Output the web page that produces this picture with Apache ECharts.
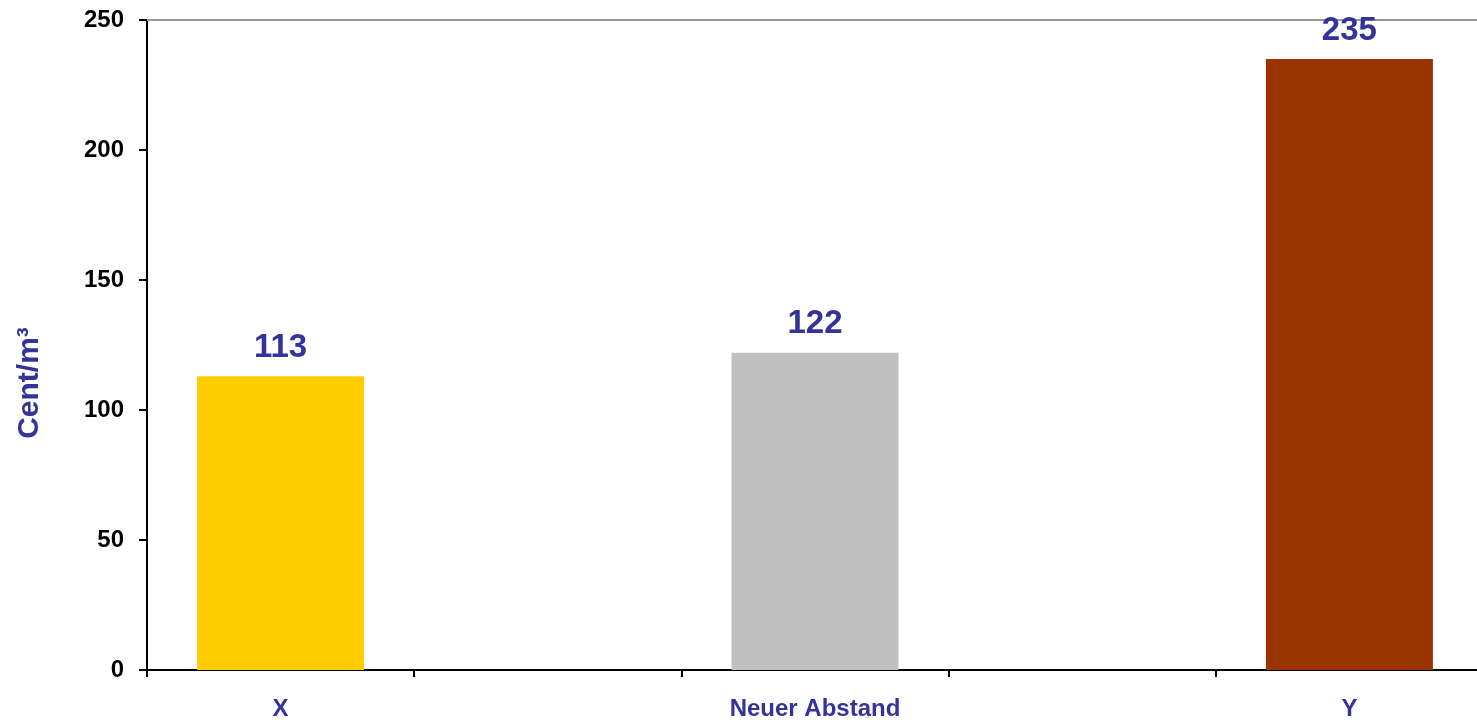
<!DOCTYPE html>
<html>
<head>
<meta charset="utf-8">
<script src="https://cdn.jsdelivr.net/npm/echarts@6/dist/echarts.min.js"></script>
<style>
  html, body { margin: 0; padding: 0; background: #fff; overflow: hidden; }
  #chart { width: 1477px; height: 720px; }
</style>
</head>
<body>
<div id="chart"></div>
<script>
// categories with empty slots between them, like in the original sheet
var categories = ['X', '', 'Neuer Abstand', '', 'Y'];
var values = [113, '-', 122, '-', 235];
var barColors = ['#FFCC00', '#FFFFFF', '#C0C0C0', '#FFFFFF', '#993300'];
var yTicks = { min: 0, max: 250, interval: 50 };

var myChart = echarts.init(document.getElementById('chart'));
var blue = '#333399';
var font = 'Liberation Sans, Arial, sans-serif';

var option = {
  animation: false,
  grid: { left: 147, top: 20, bottom: 50, width: 1336, outerBoundsMode: 'none' },
  xAxis: [
    {
      type: 'category',
      data: categories,
      axisLine: { lineStyle: { color: '#000', width: 2 } },
      axisTick: { show: true, length: 7, lineStyle: { color: '#000', width: 2 } },
      axisLabel: {
        interval: 0,
        margin: 27,
        color: blue,
        fontSize: 24,
        fontWeight: 'bold',
        fontFamily: font
      }
    },
    {
      type: 'category',
      position: 'top',
      data: categories,
      axisLine: { show: true, lineStyle: { color: '#999', width: 2 } },
      axisTick: { show: false },
      axisLabel: { show: false }
    }
  ],
  yAxis: {
    type: 'value',
    min: yTicks.min,
    max: yTicks.max,
    interval: yTicks.interval,
    axisLine: { show: true, lineStyle: { color: '#000', width: 2 } },
    axisTick: { show: true, inside: false, length: 8, lineStyle: { color: '#000', width: 2 } },
    splitLine: { show: false },
    axisLabel: {
      margin: 23,
      color: '#000',
      fontSize: 24,
      fontWeight: 'bold',
      fontFamily: font
    }
  },
  graphic: [{
    type: 'text',
    x: 30,
    y: 383,
    rotation: Math.PI / 2,
    style: {
      text: 'Cent/m³',
      align: 'center',
      verticalAlign: 'middle',
      fill: blue,
      fontSize: 30,
      fontWeight: 'bold',
      fontFamily: font
    }
  }],
  series: [{
    type: 'bar',
    data: values.map(function (v, i) {
      return { value: v, itemStyle: { color: barColors[i] } };
    }),
    barWidth: '62.5%',
    label: {
      show: true,
      position: 'top',
      distance: 12,
      color: blue,
      fontSize: 33,
      fontWeight: 'bold',
      fontFamily: font
    }
  }]
};

myChart.setOption(option);
window.addEventListener('resize', function () { myChart.resize(); });
</script>
</body>
</html>
